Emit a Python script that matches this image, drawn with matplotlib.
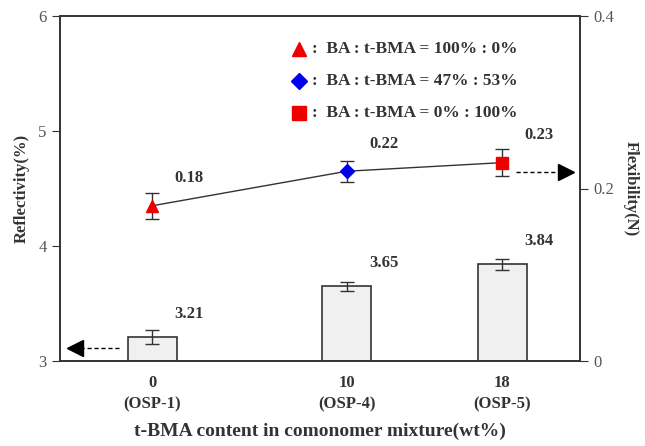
import matplotlib.pyplot as plt

# t-BMA content (wt%) and sample names
tbma = [0, 10, 18]
samples = ["(OSP-1)", "(OSP-4)", "(OSP-5)"]

# reflectivity bars (left axis)
reflectivity = [3.21, 3.65, 3.84]
refl_err = [0.06, 0.04, 0.05]

# flexibility points (right axis)
flexibility = [0.18, 0.22, 0.23]
flex_err = [0.015, 0.012, 0.016]

legend_labels = ["BA : t-BMA = 100% : 0%",
                 "BA : t-BMA = 47% : 53%",
                 "BA : t-BMA = 0% : 100%"]
markers = ["^", "D", "s"]
marker_colors = ["#ee0000", "#0000ee", "#ee0000"]

plt.rcParams["font.family"] = ["Liberation Serif", "DejaVu Serif"]

fig = plt.figure(figsize=(6.45, 4.46), dpi=100)
ax = fig.add_axes([60 / 645, 1 - 361 / 446, 520 / 645, 345 / 446])
ax2 = ax.twinx()

ax.bar(tbma, [r - 3 for r in reflectivity], bottom=3, width=2.5,
       color="#f0f0f0", edgecolor="#333333", linewidth=1.2, zorder=2)
ax.errorbar(tbma, reflectivity, yerr=refl_err, fmt="none", ecolor="#333333",
            elinewidth=1, capsize=5, zorder=3)
for x, r in zip(tbma, reflectivity):
    ax.text(x + 1.9, r + 0.2, f"{r:.2f}", ha="center", va="center",
            fontsize=12, fontweight="bold", color="#333333")

ax2.plot(tbma, flexibility, color="#333333", linewidth=1, zorder=3)
for x, f, e, m, c in zip(tbma, flexibility, flex_err, markers, marker_colors):
    ax2.errorbar(x, f, yerr=e, fmt="none", ecolor="#333333",
                 elinewidth=1, capsize=5, zorder=4)
    ax2.plot(x, f, marker=m, color=c, markersize=9 if m != "D" else 7,
             linestyle="none", zorder=5)
for x, f in zip(tbma, flexibility):
    ax2.text(x + 1.9, f + 0.032, f"{f:.2f}", ha="center", va="center",
             fontsize=12, fontweight="bold", color="#333333")

# legend drawn as marker + text rows
for i, (lab, m, c) in enumerate(zip(legend_labels, markers, marker_colors)):
    yy = 0.905 - i * 0.093
    ax.plot(0.46, yy, marker=m, color=c, markersize=10 if m != "D" else 8,
            transform=ax.transAxes, clip_on=False, linestyle="none")
    ax.text(0.485, yy, ":  " + lab, transform=ax.transAxes, ha="left",
            va="center", fontsize=12.5, fontweight="bold", color="#333333")

# axis indicator arrows: dashed shaft + solid triangular head
ax.plot([-1.7, -3.6], [3.11, 3.11], color="black", lw=1,
        linestyle=(0, (3, 2)))
ax.plot(-4.0, 3.11, marker="<", color="black", markersize=11,
        linestyle="none", clip_on=False)
ax2.plot([18.7, 20.9], [0.219, 0.219], color="black", lw=1,
         linestyle=(0, (3, 2)))
ax2.plot(21.3, 0.219, marker=">", color="black", markersize=11,
         linestyle="none", clip_on=False)

ax.set_xlim(-4.75, 22)
ax.set_ylim(3, 6)
ax.set_yticks([3, 4, 5, 6])
ax2.set_ylim(0, 0.4)
ax2.set_yticks([0, 0.2, 0.4])
ax2.set_yticklabels(["0", "0.2", "0.4"])

ax.set_xticks(tbma)
ax.set_xticklabels([f"{t}\n{s}" for t, s in zip(tbma, samples)],
                   fontsize=12, fontweight="bold", color="#333333",
                   linespacing=1.5)
ax.tick_params(axis="x", length=0, pad=10)
ax.tick_params(axis="y", direction="out", length=6, labelsize=12,
               colors="#333333", labelcolor="#555555")
ax2.tick_params(axis="y", direction="out", length=6, labelsize=12,
                colors="#333333", labelcolor="#555555")

for a in (ax, ax2):
    for sp in a.spines.values():
        sp.set_color("#333333")
        sp.set_linewidth(1.2)

ax.set_ylabel("Reflectivity(%)", fontsize=12, fontweight="bold",
              color="#333333", labelpad=6)
ax2.set_ylabel("Flexibility(N)", fontsize=12, fontweight="bold",
               color="#333333", rotation=270, labelpad=18)
ax.set_xlabel("t-BMA content in comonomer mixture(wt%)", fontsize=14,
              fontweight="bold", color="#333333", labelpad=7)

fig.savefig("out.png", dpi=100)
